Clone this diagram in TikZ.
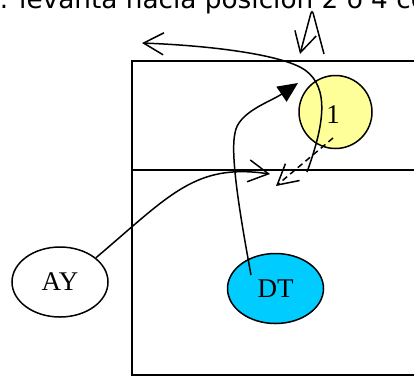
\documentclass[tikz,border=0pt]{standalone}
\usepackage{fontspec}
\setmainfont{Liberation Serif}
\newfontfamily\dejavu{DejaVu Sans}
\usetikzlibrary{arrows.meta,shapes.geometric}
\definecolor{ylw}{HTML}{FFFF99}
\definecolor{cyn}{HTML}{00CCFF}
\begin{document}
\begin{tikzpicture}[x=1pt,y=-1pt,line width=1.5pt,
  lbl/.style={font=\fontsize{27}{32}\selectfont},
  barb/.style={-{Straight Barb[length=20pt,width=22pt]}},
  filltip/.style={-{Triangle[length=20pt,width=18pt]}},
  oval/.style={ellipse,draw,minimum width=96pt,minimum height=70pt,inner sep=0pt,lbl}]
\useasboundingbox (0,0) rectangle (414,376);
\node[anchor=base west,inner sep=0pt,font=\dejavu\fontsize{26.3}{30}\selectfont] (title) at (-1,8.5) {. levanta hacia posición 2 ó 4 co};
\draw (420,61) -- (132,61) -- (132,375) -- (420,375);
\draw (132,170) -- (420,170);
\node[circle,draw,fill=ylw,minimum size=73pt,inner sep=0pt,lbl] (one) at (335.5,112) {};
\node[lbl,inner sep=0pt] (onelbl) at (333,115) {1};
\node[oval,fill=white] (ay) at (60,282) {AY};
\node[oval,fill=cyn] (dt) at (275.5,288.5) {DT};
\coordinate (aTip) at (270,174);
\coordinate (dtS) at (251,275);
\coordinate (bTip) at (298,83);
\coordinate (d1) at (333,138);
\coordinate (d2) at (276,186);
\coordinate (e1) at (307,172);
\coordinate (e2) at (142,43);
\coordinate (f1) at (324,54);
\coordinate (f2) at (300,54);
\draw[barb] (ay.34) .. controls (170,195) and (195,163) .. (aTip);
\draw[filltip] (dtS) .. controls (240,215) and (230,155) .. (235,133) .. controls (238,112) and (270,102) .. (bTip);
\draw[barb,dash pattern=on 6pt off 4pt] (d1) -- (d2);
\draw[barb] (e1) .. controls (324,125) and (330,88) .. (305,70) .. controls (285,56) and (220,46) .. (e2);
\draw[barb,rounded corners=5pt] (f1) -- (312,9) -- (f2);
\end{tikzpicture}
\end{document}
